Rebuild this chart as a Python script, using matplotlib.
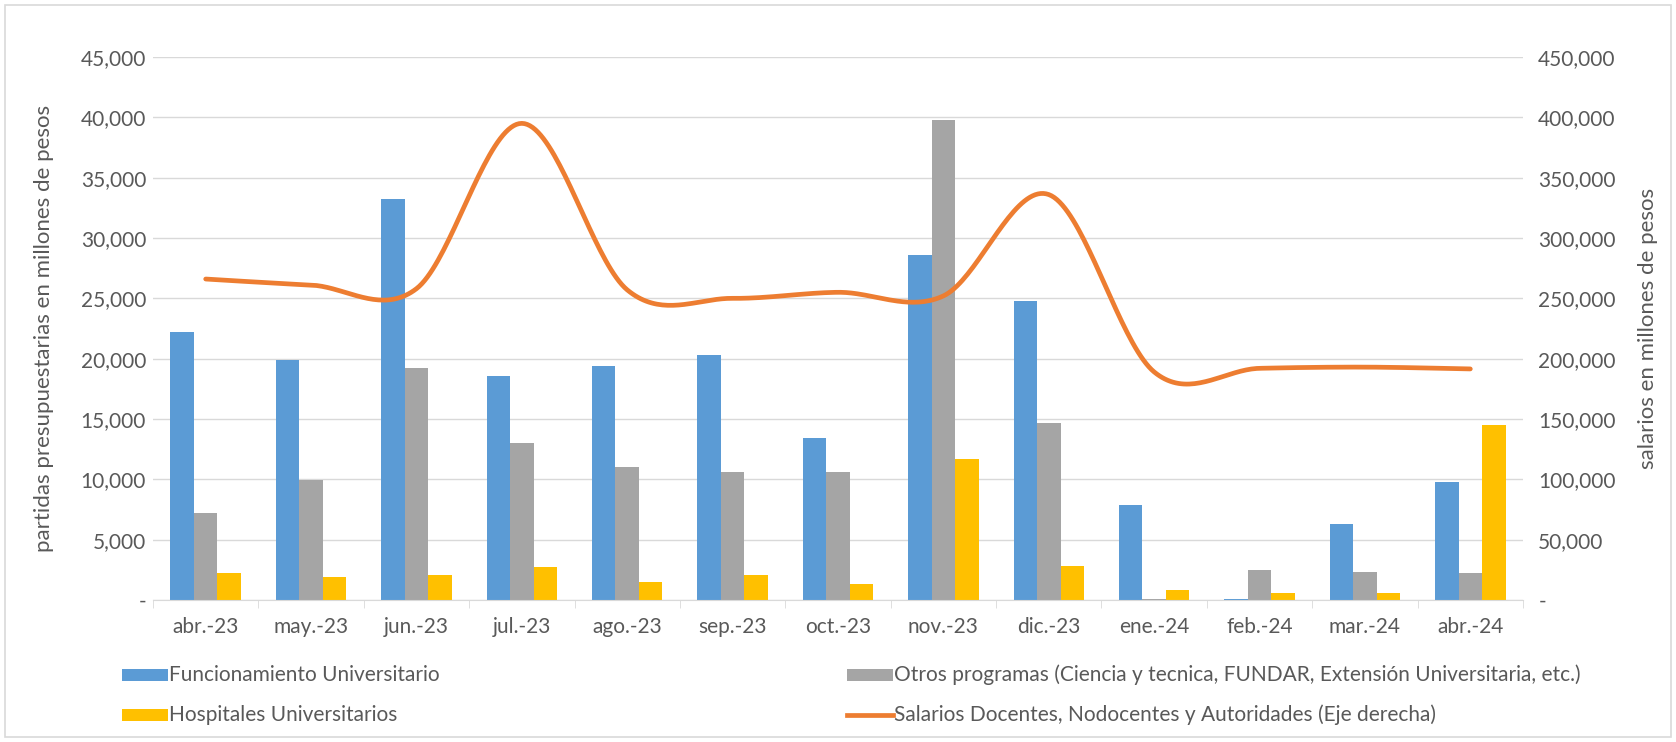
import numpy as np
import matplotlib.pyplot as plt
from matplotlib.patches import Rectangle
from matplotlib.lines import Line2D
from matplotlib.ticker import FuncFormatter

# datos
meses = ['abr.-23', 'may.-23', 'jun.-23', 'jul.-23', 'ago.-23', 'sep.-23', 'oct.-23',
         'nov.-23', 'dic.-23', 'ene.-24', 'feb.-24', 'mar.-24', 'abr.-24']
funcionamiento = [22200, 19900, 33200, 18600, 19400, 20300, 13400, 28600, 24800, 7850, 100, 6300, 9800]
otros = [7200, 9950, 19200, 13000, 11000, 10600, 10600, 39800, 14700, 100, 2450, 2350, 2250]
hospitales = [2200, 1900, 2100, 2700, 1500, 2100, 1300, 11700, 2850, 800, 580, 580, 14500]
salarios = [266000, 261000, 258000, 395000, 257000, 250000, 255000, 252000, 336000,
            189000, 192000, 193000, 191500]

nombres = ['Funcionamiento Universitario',
           'Otros programas (Ciencia y tecnica, FUNDAR, Extensión Universitaria, etc.)',
           'Hospitales Universitarios',
           'Salarios Docentes, Nodocentes y Autoridades (Eje derecha)']

c_azul = '#5B9BD5'
c_gris = '#A5A5A5'
c_amar = '#FFC000'
c_nar = '#ED7D31'
c_txt = '#595959'
c_grid = '#D9D9D9'

plt.rcParams['font.family'] = ['Lato', 'DejaVu Sans']
fs = 15


def suavizar(x, y, n=40):
    # curva suave tipo Excel (Catmull-Rom en forma Bezier)
    p = np.column_stack([x, y]).astype(float)
    out = []
    for i in range(len(p) - 1):
        p0 = p[i - 1] if i > 0 else p[i]
        p1 = p[i]
        p2 = p[i + 1]
        p3 = p[i + 2] if i + 2 < len(p) else p[i + 1]
        c1 = p1 + (p2 - p0) / 6
        c2 = p2 - (p3 - p1) / 6
        t = np.linspace(0, 1, n)[:, None]
        b = (1 - t) ** 3 * p1 + 3 * (1 - t) ** 2 * t * c1 + 3 * (1 - t) * t ** 2 * c2 + t ** 3 * p2
        out.append(b if i == 0 else b[1:])
    out = np.vstack(out)
    return out[:, 0], out[:, 1]


W, H = 1676, 742
fig = plt.figure(figsize=(W / 100, H / 100), dpi=100)
ax = fig.add_axes([153 / W, 1 - 600 / H, (1523 - 153) / W, (600 - 57) / H])
ax2 = ax.twinx()

x = np.arange(len(meses))
w = 0.223
ax.bar(x - w, funcionamiento, w, color=c_azul, zorder=2)
ax.bar(x, otros, w, color=c_gris, zorder=2)
ax.bar(x + w, hospitales, w, color=c_amar, zorder=2)

xs, ys = suavizar(x, salarios)
ax2.plot(xs, ys, color=c_nar, lw=3.4, solid_capstyle='round')

ax.set_xlim(-0.5, len(meses) - 0.5)
ax.set_ylim(0, 45000)
ax2.set_ylim(0, 450000)
ax.set_yticks(np.arange(0, 45001, 5000))
ax2.set_yticks(np.arange(0, 450001, 50000))

fmt = FuncFormatter(lambda v, p: '-' if v == 0 else f'{v:,.0f}')
ax.yaxis.set_major_formatter(fmt)
ax2.yaxis.set_major_formatter(fmt)

ax.grid(axis='y', color=c_grid, lw=1, zorder=0)
ax.set_axisbelow(True)
for a in (ax, ax2):
    for s in a.spines.values():
        s.set_visible(False)
    a.tick_params(axis='y', length=0, labelsize=fs, colors=c_txt)
ax.spines['bottom'].set_visible(True)
ax.spines['bottom'].set_color(c_grid)

ax.set_xticks(x)
ax.set_xticklabels(meses)
ax.set_xticks(np.arange(-0.5, len(meses), 1), minor=True)
ax.tick_params(axis='x', which='major', length=0, labelsize=fs, colors=c_txt, pad=12)
ax.tick_params(axis='x', which='minor', length=6, color=c_grid)
ax.tick_params(axis='y', pad=5)
ax2.tick_params(axis='y', pad=11)

ax.set_ylabel('partidas presupuestarias en millones de pesos', fontsize=fs + 1, color=c_txt, labelpad=19)
ax2.set_ylabel('salarios en millones de pesos', fontsize=fs + 1, color=c_txt, labelpad=16)

# leyenda manual en dos columnas
filas = [675, 715]
cols = [(122, 168), (847, 893)]
items = [(0, 0, c_azul, 'bar', nombres[0]), (0, 1, c_gris, 'bar', nombres[1]),
         (1, 0, c_amar, 'bar', nombres[2]), (1, 1, c_nar, 'line', nombres[3])]
for r, c, col, tipo, txt in items:
    y0 = filas[r]
    x0, x1 = cols[c]
    if tipo == 'bar':
        fig.add_artist(Rectangle((x0 / W, 1 - (y0 + 6) / H), (x1 - x0) / W, 12 / H,
                                 transform=fig.transFigure, color=col, lw=0))
    else:
        fig.add_artist(Line2D([x0 / W, x1 / W], [1 - y0 / H, 1 - y0 / H],
                              transform=fig.transFigure, color=col, lw=3.4))
    fig.text((x1 + 1) / W, 1 - y0 / H, txt, fontsize=fs, color=c_txt, va='center', ha='left')

fig.add_artist(Rectangle((5 / W, 5 / H), 1 - 10 / W, 1 - 10 / H, transform=fig.transFigure,
                         fill=False, ec=c_grid, lw=1.2))

fig.savefig('out.png', dpi=100)
